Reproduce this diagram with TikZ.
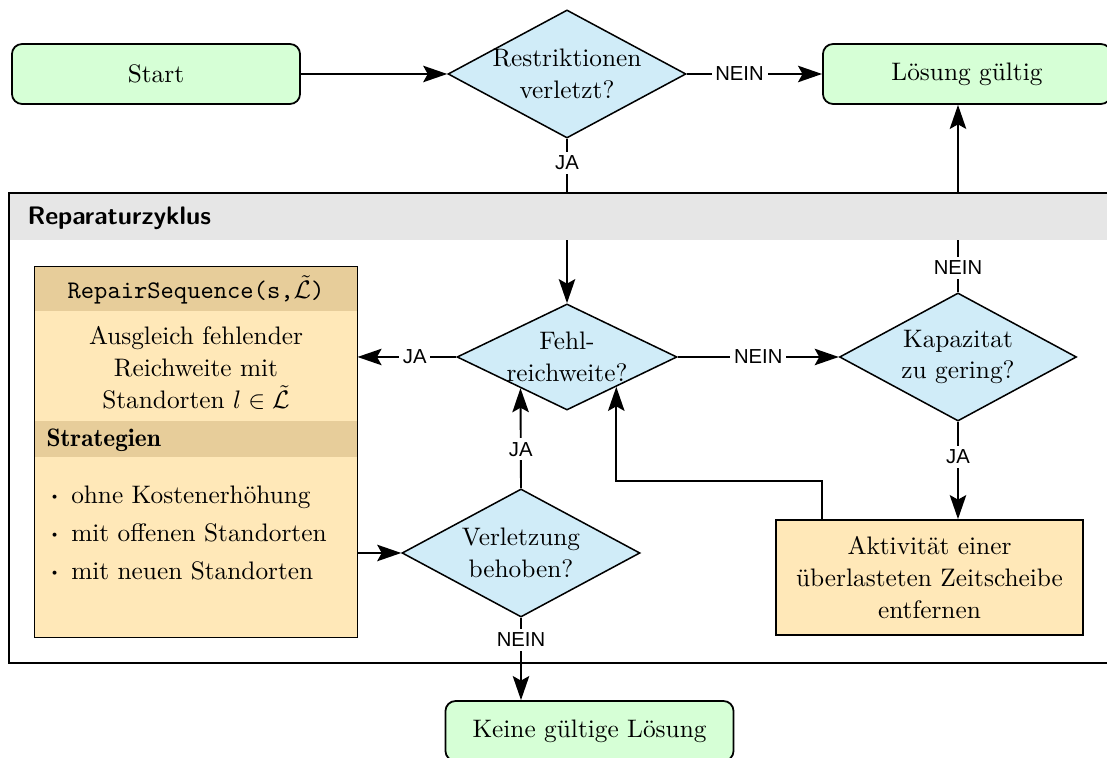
\documentclass[tikz,border=0pt]{standalone}
\usepackage{fontspec}
\usepackage{amsmath}
\usetikzlibrary{arrows.meta,shapes.geometric,positioning,calc}
\newfontfamily\labelfont{Liberation Sans}
\newfontface\demifont{lmromandemi10-regular.otf}

\definecolor{termgreen}{RGB}{214,255,214}
\definecolor{decblue}{RGB}{208,236,248}
\definecolor{tanlight}{RGB}{255,232,184}
\definecolor{tandark}{RGB}{231,205,154}
\definecolor{headgray}{RGB}{230,230,230}

\begin{document}
\begin{tikzpicture}[
    x=0.395pt, y=-0.395pt,
    terminal/.style={draw, fill=termgreen, rounded corners=4pt, line width=0.7pt, minimum width=113.8pt, minimum height=23.7pt},
    decision/.style={diamond, draw, fill=decblue, line width=0.6pt, align=center, inner sep=-1pt, font=\fontsize{10}{12.6}\selectfont},
    action/.style={draw, fill=tanlight, line width=0.7pt, align=center, font=\fontsize{10}{12.6}\selectfont},
    conn/.style={-{Stealth[length=9.5pt, width=6.5pt, inset=1.8pt]}, line width=0.75pt},
    lab/.style={fill=white, inner sep=1.5pt, font=\labelfont\fontsize{8}{9}\selectfont}
]
    \useasboundingbox (0,0) rectangle (1107,758);

    % Terminals
    \node[terminal] (start) at (156,74) {Start};
    \node[terminal] (loes) at (967,74) {Lösung gültig};
    \node[terminal] (keine) at (589.5,731) {Keine gültige Lösung};

    % Decisions
    \node[decision, minimum width=94pt, minimum height=50.6pt, shape aspect=1.86] (restr) at (567,74) {Restriktionen\\verletzt?};
    \node[decision, minimum width=86.9pt, minimum height=41.9pt, shape aspect=2.08] (fehl) at (567,357) {Fehl-\\reichweite?};
    \node[decision, minimum width=93.6pt, minimum height=50.6pt, shape aspect=1.85] (kap) at (958,357) {Kapazitat\\zu gering?};
    \node[decision, minimum width=94pt, minimum height=50.6pt, shape aspect=1.86] (verl) at (521,553) {Verletzung\\behoben?};

    % Actions
    \node[action, minimum width=121.3pt, minimum height=45.4pt] (akt) at (929.5,577.5) {Aktivität einer\\überlasteten Zeitscheibe\\entfernen};

    % RepairSequence
    \node[fill=tanlight, minimum width=127.2pt, minimum height=146.2pt] (repair) at (196,452) {};
    \fill[tandark] (repair.north west) rectangle ($(repair.north east)+(0,45)$);
    \fill[tandark] ($(repair.north west)+(0,155)$) rectangle ($(repair.north east)+(0,191)$);
    \draw[line width=0.7pt] (repair.north west) rectangle (repair.south east);
    \node[inner sep=0pt] (rstitle) at (196,290) {\texttt{RepairSequence(s,}$\tilde{\mathcal{L}}$\texttt{)}};
    \node[inner sep=0pt, align=center, font=\fontsize{10}{12.6}\selectfont] (rsbody) at (196,368) {Ausgleich fehlender\\Reichweite mit\\Standorten $l \in \tilde{\mathcal{L}}$};
    \node[anchor=west, inner sep=0pt, font=\demifont] (rsstrat) at (46,440) {Strategien};
    \node[anchor=west, align=left, inner sep=0pt, font=\fontsize{10}{15.2}\selectfont] (rslist) at (50,533) {$\boldsymbol{\cdot}$\enspace ohne Kostenerhöhung\\$\boldsymbol{\cdot}$\enspace mit offenen Standorten\\$\boldsymbol{\cdot}$\enspace mit neuen Standorten};

    % Connectors
    \draw[conn] (start) -- (restr);
    \draw[conn] (restr) -- node[lab, pos=0.39]{NEIN} (loes);
    \draw[conn] (restr) -- node[lab, pos=0.145]{JA} (fehl);
    \draw[conn] (fehl) -- node[lab, pos=0.42]{JA} (fehl.west -| repair.east);
    \draw[conn] (fehl) -- node[lab]{NEIN} (kap);
    \draw[conn] (kap) -- node[lab, pos=0.13]{NEIN} (kap.north |- loes.south);
    \draw[conn] (kap) -- node[lab, pos=0.36]{JA} (kap.south |- akt.north);
    \draw[conn] ($(akt.north west)+(47,0)$) -- ++(0,-38) -| ($(fehl.south east)!0.11!(fehl.south)$);
    \draw[conn] (repair.east |- verl.west) -- (verl);
    \draw[conn] (verl.north) -- node[lab, pos=0.39]{JA} ($(fehl.south west)!0.16!(fehl.south)$);
    \draw[conn] (verl) -- node[lab, pos=0.27]{NEIN} (verl.south |- keine.north);

    % Reparaturzyklus
    \fill[headgray] (9,193) rectangle (1130,240);
    \draw[line width=0.8pt] (9,193) rectangle (1130,663);
    \node[anchor=west, inner sep=0pt, font=\sffamily\bfseries] (grptitle) at (27,218) {Reparaturzyklus};
\end{tikzpicture}
\end{document}
